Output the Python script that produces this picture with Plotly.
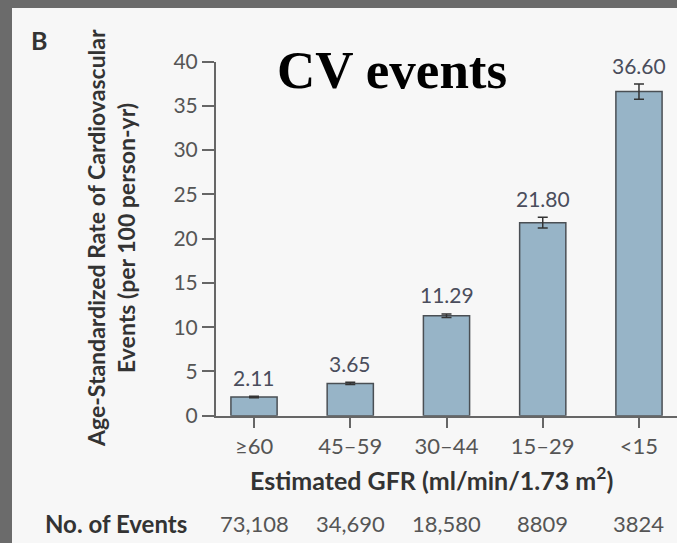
import plotly.graph_objects as go

# Age-standardized CV event rates by eGFR band
gfr_bands = ["≥60", "45–59", "30–44", "15–29", "<15"]
rates = [2.11, 3.65, 11.29, 21.80, 36.60]
rate_err = [0.08, 0.12, 0.2, 0.6, 0.85]
event_counts = ["73,108", "34,690", "18,580", "8809", "3824"]
y_ticks = [0, 5, 10, 15, 20, 25, 30, 35, 40]

W, H = 677, 543
SANS = "Lato, 'Open Sans', sans-serif"
AXIS = "#666666"
SLIDE = "#6b6b6b"
PANEL = "#f7f7f7"

x_pos = list(range(len(gfr_bands)))

fig = go.Figure()
fig.add_trace(go.Bar(
    x=x_pos, y=rates, width=0.48,
    marker=dict(color="#97b4c7", line=dict(color="#4a4f54", width=1.5)),
    error_y=dict(type="data", array=rate_err, visible=True,
                 color="#333333", thickness=1.5, width=5),
    showlegend=False, hoverinfo="skip",
))

# value labels above each error bar
for i, (v, e) in enumerate(zip(rates, rate_err)):
    fig.add_annotation(x=i, y=v + e, xref="x", yref="y", text=f"{v:.2f}",
                       showarrow=False, yanchor="middle", yshift=19,
                       font=dict(family=SANS, size=21, color="#4a4d5c"))

# number of events row
events_y = 1 - 523 / H
for i, n in enumerate(event_counts):
    fig.add_annotation(x=i, y=events_y, xref="x", yref="paper", text=n,
                       showarrow=False, yanchor="middle",
                       font=dict(family=SANS, size=22, color="#555555"))
fig.add_annotation(x=43 / W, y=events_y, xref="paper", yref="paper",
                   text="<b>No. of Events</b>", showarrow=False,
                   xanchor="left", yanchor="middle",
                   font=dict(family=SANS, size=24, color="#333333"))

# x axis title
fig.add_annotation(x=431 / W, y=1 - 478 / H, xref="paper", yref="paper",
                   text="<b>Estimated GFR (ml/min/1.73 m<sup>2</sup>)</b>",
                   showarrow=False, yanchor="middle",
                   font=dict(family=SANS, size=25, color="#333333"))

# y axis title, two rotated lines
for text, xc in [("Age-Standardized Rate of Cardiovascular", 96),
                 ("Events (per 100 person-yr)", 126)]:
    fig.add_annotation(x=xc / W, y=1 - 238 / H, xref="paper", yref="paper",
                       text=f"<b>{text}</b>", textangle=-90, showarrow=False,
                       xanchor="center", yanchor="middle",
                       font=dict(family=SANS, size=23, color="#333333"))

# panel letter and slide title
fig.add_annotation(x=29 / W, y=1 - 23 / H, xref="paper", yref="paper",
                   text="<b>B</b>", showarrow=False,
                   font=dict(family=SANS, size=25, color="#333333"))
fig.add_annotation(x=392 / W, y=1 - 70 / H, xref="paper", yref="paper",
                   text="<b>CV events</b>", showarrow=False, yanchor="middle",
                   font=dict(family="'Liberation Serif', 'Times New Roman', serif",
                             size=53, color="#000000"))

# grey slide frame along the left and top edges
fig.add_shape(type="rect", xref="paper", yref="paper", layer="below",
              x0=0, x1=12 / W, y0=0, y1=1,
              fillcolor=SLIDE, line=dict(width=0))
fig.add_shape(type="rect", xref="paper", yref="paper", layer="below",
              x0=0, x1=1, y0=1 - 8 / H, y1=1,
              fillcolor=SLIDE, line=dict(width=0))

fig.update_layout(
    width=W, height=H,
    margin=dict(l=0, r=0, t=0, b=0, autoexpand=False),
    paper_bgcolor=PANEL,
    plot_bgcolor="rgba(0,0,0,0)",
    xaxis=dict(domain=[216 / W, 1.0], range=[-0.395, 4.395],
               tickvals=x_pos, ticktext=gfr_bands, automargin=False,
               showline=True, linecolor=AXIS, linewidth=2,
               ticks="outside", ticklen=10, tickwidth=2, tickcolor=AXIS,
               showgrid=False, zeroline=False,
               tickfont=dict(family=SANS, size=22, color="#555555")),
    yaxis=dict(domain=[1 - 415.7 / H, 1 - 61.5 / H], range=[0, 40],
               tickvals=y_ticks, automargin=False,
               showline=True, linecolor=AXIS, linewidth=2,
               ticks="outside", ticklen=12, tickwidth=2, tickcolor=AXIS,
               showgrid=False, zeroline=False,
               tickfont=dict(family=SANS, size=21, color="#555555")),
)

# page itself: no margin, no scrolling, same light tone behind the figure
page_js = ("document.documentElement.style.overflow='hidden';"
           "document.body.style.overflow='hidden';"
           "document.body.style.margin='0';"
           f"document.documentElement.style.background='{PANEL}';"
           f"document.body.style.background='{PANEL}';")
fig.write_html("out.html", post_script=page_js)
